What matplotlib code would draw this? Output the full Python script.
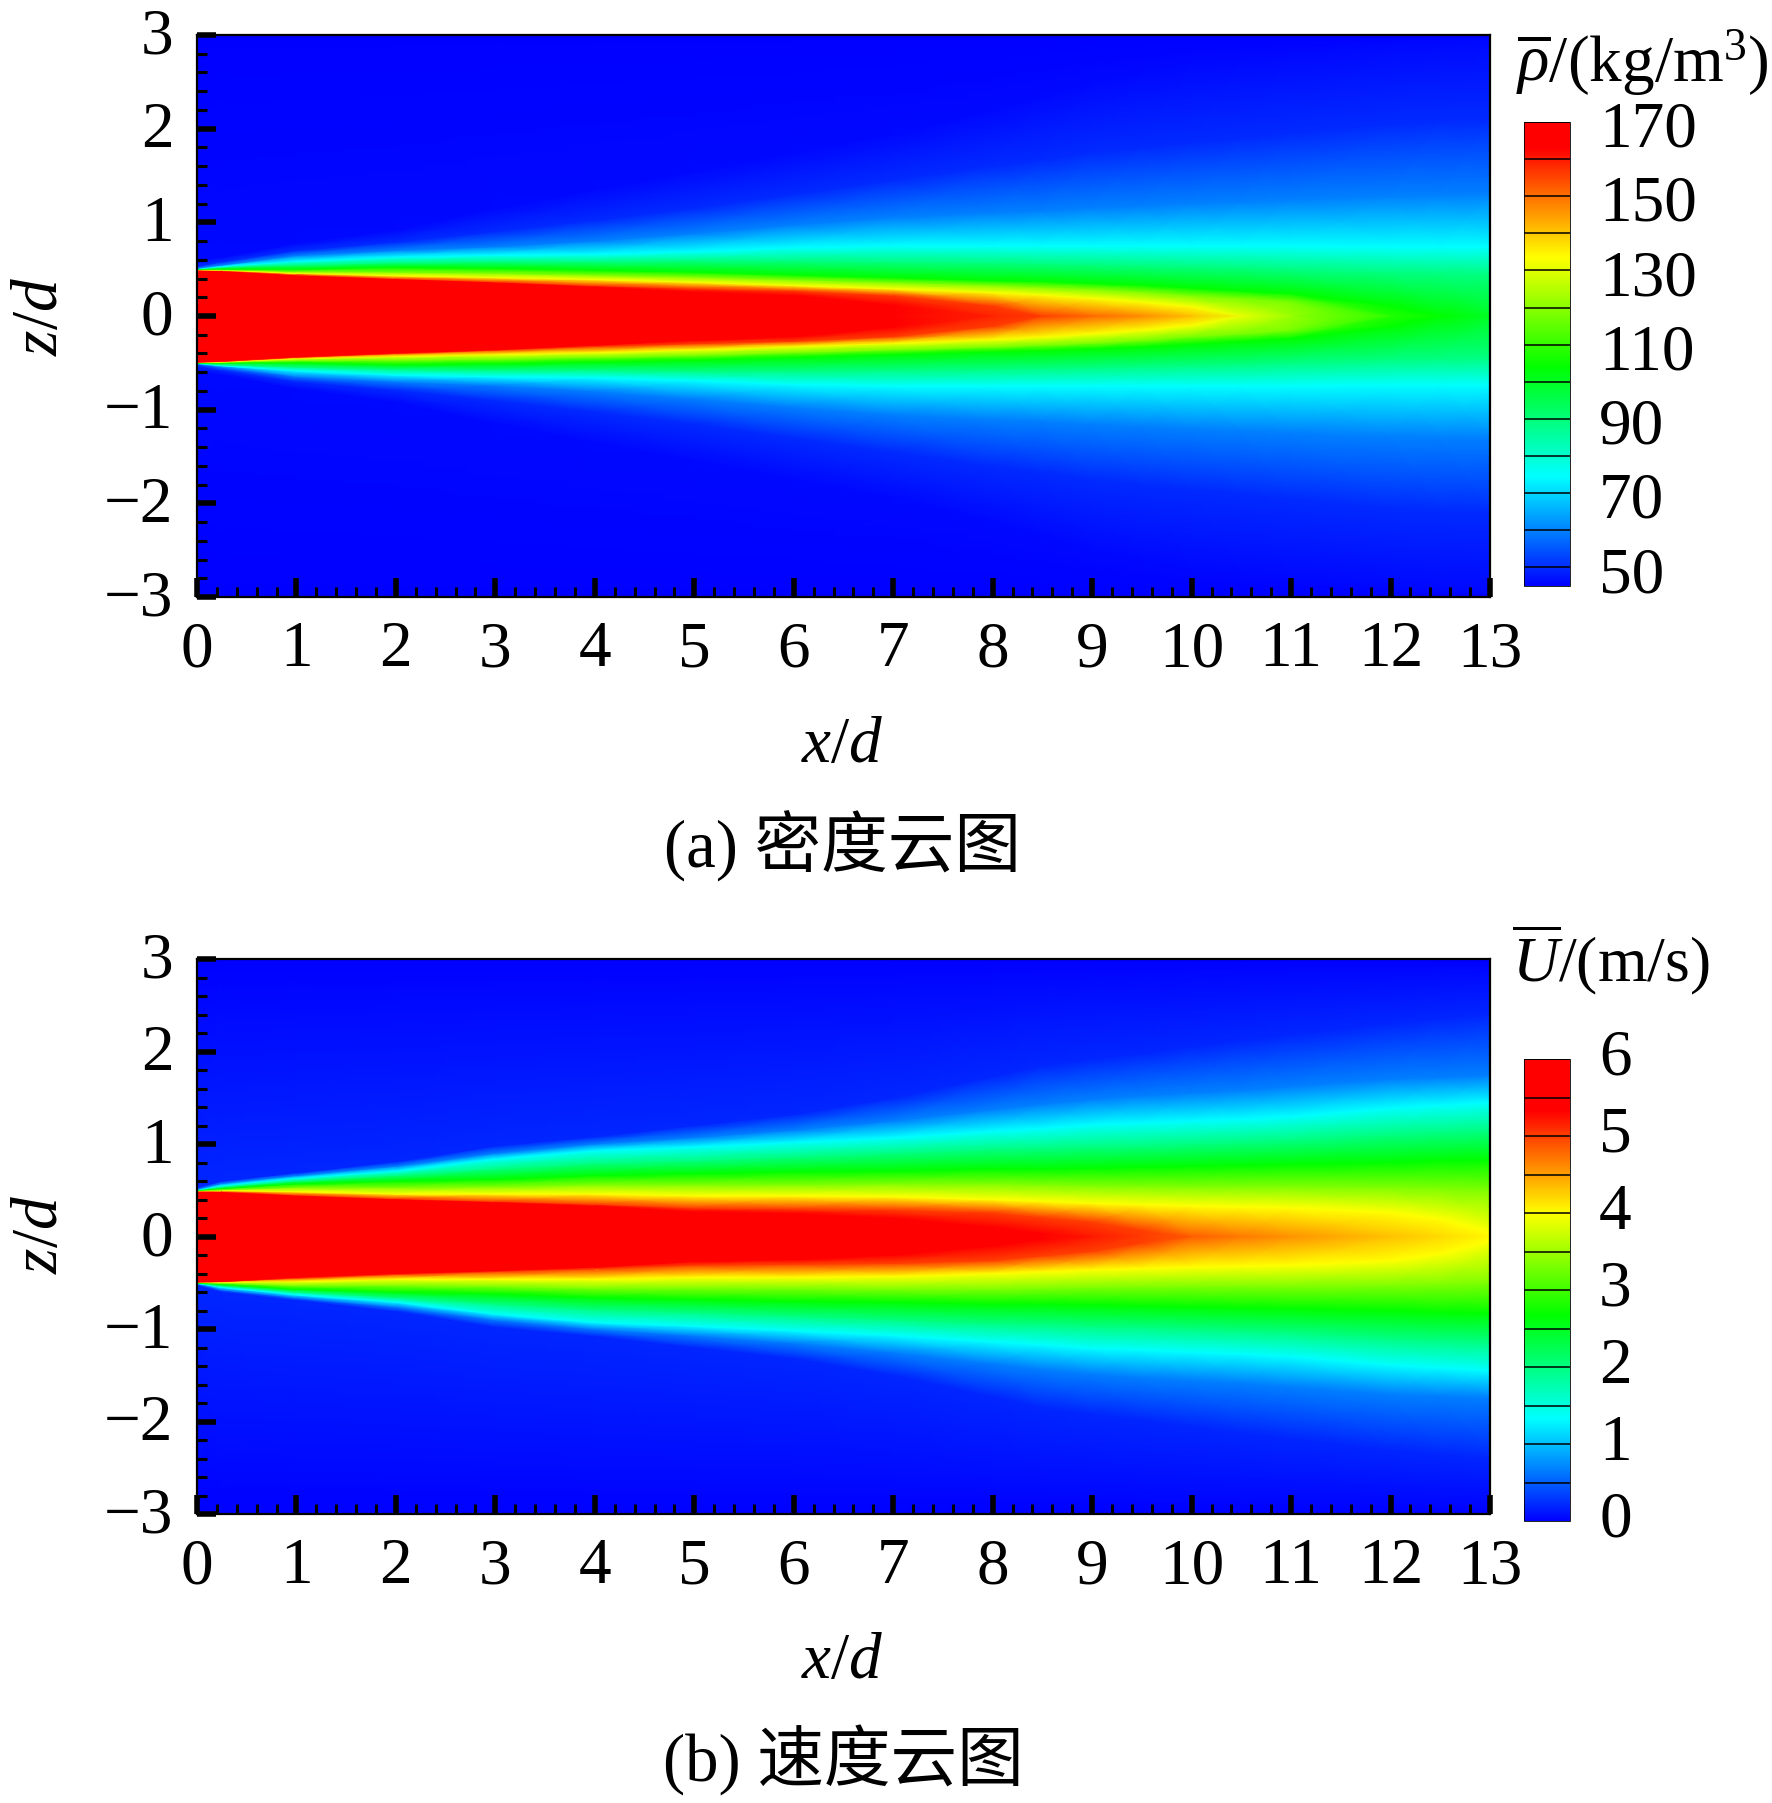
import numpy as np
import matplotlib
matplotlib.use('Agg')
import matplotlib.pyplot as plt
from matplotlib.colors import LinearSegmentedColormap, Normalize
from matplotlib.transforms import ScaledTranslation

plt.rcParams['font.family'] = ['Liberation Serif', 'Noto Sans CJK SC']
plt.rcParams['mathtext.fontset'] = 'custom'
plt.rcParams['mathtext.rm'] = 'Liberation Serif'
plt.rcParams['mathtext.it'] = 'Liberation Serif:italic'

W, H = 1772, 1803

# x stations, shared by both fields
x_st = np.array([0, 0.25, 1, 2, 3, 4, 5, 6, 7, 8, 8.5, 9, 9.5, 10, 10.5, 11, 12, 12.5, 13])

# density: centreline value and z where each level sits
rho_levels = np.array([163, 156, 133, 118, 104, 89, 74.5, 60, 50, 46])
rho_bg = 45
rho_center = np.array([170, 170, 170, 170, 170, 170, 168, 165, 163.5, 159, 156, 151, 147, 141, 131, 122, 108, 104, 100])
rho_z = np.array([
    [.49, .492, .495, .497, .50, .503, .505, .51, .53, .60],
    [.48, .485, .49, .495, .50, .52, .53, .545, .58, .63],
    [.435, .44, .455, .475, .50, .545, .585, .645, .70, .78],
    [.395, .40, .43, .47, .52, .57, .63, .70, .79, .92],
    [.36, .365, .41, .46, .51, .58, .65, .74, .90, 1.15],
    [.31, .325, .39, .44, .49, .58, .66, .80, 1.02, 1.35],
    [.26, .295, .36, .42, .47, .59, .69, .88, 1.15, 1.55],
    [.22, .27, .325, .39, .44, .59, .73, .97, 1.30, 1.75],
    [.12, .22, .29, .36, .41, .58, .75, 1.05, 1.45, 1.95],
    [0, .11, .25, .33, .38, .57, .75, 1.1, 1.6, 2.2],
    [0, 0, .225, .31, .37, .56, .75, 1.12, 1.67, 2.35],
    [0, 0, .19, .29, .35, .55, .75, 1.15, 1.75, 2.5],
    [0, 0, .15, .26, .33, .54, .75, 1.17, 1.8, 2.6],
    [0, 0, .10, .22, .30, .53, .75, 1.2, 1.85, 2.7],
    [0, 0, 0, .19, .27, .52, .75, 1.22, 1.9, 2.75],
    [0, 0, 0, .15, .24, .50, .75, 1.24, 1.95, 2.8],
    [0, 0, 0, 0, .11, .47, .74, 1.28, 2.05, 2.9],
    [0, 0, 0, 0, 0, .46, .74, 1.29, 2.08, 2.92],
    [0, 0, 0, 0, 0, .45, .74, 1.3, 2.1, 2.95],
])

# velocity, same layout
u_levels = np.array([5.33, 5.0, 4.0, 3.33, 2.67, 2.0, 1.33, 0.67, 0.2])
u_bg = 0
u_center = np.array([6, 6, 6, 6, 6, 6, 5.5, 5.45, 5.4, 5.36, 5.34, 5.2, 5.03, 4.85, 4.7, 4.57, 4.32, 4.2, 4.03])
u_z = np.array([
    [.49, .492, .495, .497, .50, .503, .506, .51, .53],
    [.485, .487, .495, .505, .52, .535, .55, .575, .60],
    [.44, .45, .485, .53, .57, .60, .63, .66, .69],
    [.40, .41, .46, .53, .60, .66, .71, .76, .81],
    [.37, .38, .46, .54, .62, .73, .84, .90, .98],
    [.33, .35, .46, .56, .66, .79, .93, 1.00, 1.08],
    [.27, .31, .44, .56, .68, .82, .97, 1.07, 1.20],
    [.25, .30, .44, .56, .70, .86, 1.02, 1.15, 1.32],
    [.20, .29, .43, .57, .71, .90, 1.07, 1.25, 1.50],
    [.10, .26, .40, .57, .73, .94, 1.14, 1.37, 1.73],
    [.03, .21, .38, .56, .73, .95, 1.17, 1.43, 1.85],
    [0, .16, .36, .55, .74, .97, 1.21, 1.48, 1.92],
    [0, .07, .345, .545, .75, .98, 1.23, 1.52, 1.98],
    [0, 0, .33, .54, .76, 1.0, 1.25, 1.55, 2.05],
    [0, 0, .32, .54, .77, 1.02, 1.27, 1.58, 2.12],
    [0, 0, .31, .54, .78, 1.04, 1.30, 1.62, 2.18],
    [0, 0, .26, .53, .80, 1.10, 1.39, 1.70, 2.30],
    [0, 0, .19, .52, .82, 1.12, 1.42, 1.72, 2.35],
    [0, 0, .05, .50, .83, 1.14, 1.45, 1.74, 2.40],
])

# colour anchors
rho_anchor = [45, 74.5, 104, 133.5, 163, 170]
u_anchor = [0, 1.33, 2.67, 4.0, 5.33, 6]
anchor_colors = ['#0000ff', '#00ffff', '#00ff00', '#ffff00', '#ff0000', '#ff0000']

# colorbar contents
rho_lines = [50, 60, 70, 80, 90, 100, 110, 120, 130, 140, 150, 160, 170]
rho_ticks = [50, 70, 90, 110, 130, 150, 170]
u_lines = [0.5, 1, 1.5, 2, 2.5, 3, 3.5, 4, 4.5, 5, 5.5, 6]
u_ticks = [0, 1, 2, 3, 4, 5, 6]

fig = plt.figure(figsize=(W / 100, H / 100), dpi=100)


def px_axes(x0, y0, x1, y1):
    # pixel box, y measured from the top of the image
    return fig.add_axes([x0 / W, 1 - y1 / H, (x1 - x0) / W, (y1 - y0) / H])


def px_text(x, y, s, **kw):
    fig.text(x / W, 1 - y / H, s, **kw)


def shift_labels(labels, dy_px):
    off = ScaledTranslation(0, dy_px / 100, fig.dpi_scale_trans)
    for lab in labels:
        lab.set_transform(lab.get_transform() + off)


def make_cmap(anchor):
    a = np.array(anchor, dtype=float)
    f = (a - a[0]) / (a[-1] - a[0])
    return LinearSegmentedColormap.from_list('cfd', list(zip(f, anchor_colors)), N=1024)


def draw_field(box, cbar_box, levels, center, table, bg, anchor, lines, ticks, cbar_dy):
    ax = px_axes(*box)
    n = len(x_st)
    # one mesh column per station: centreline, level contours, outer edge
    z_up = np.column_stack([np.zeros(n), table, np.full(n, 3.0)])
    val = np.column_stack([center, np.minimum.outer(center, levels), np.full(n, bg)])
    Z = np.hstack([-z_up[:, :0:-1], z_up])
    C = np.hstack([val[:, :0:-1], val])
    X = np.repeat(x_st[:, None], Z.shape[1], axis=1)
    norm = Normalize(anchor[0], anchor[-1])
    cmap = make_cmap(anchor)
    mesh = ax.pcolormesh(X, Z, C, shading='gouraud', cmap=cmap, norm=norm)

    ax.set_xlim(0, 13)
    ax.set_ylim(-3, 3)
    ax.set_xticks(np.arange(0, 14))
    ax.set_yticks(np.arange(-3, 4))
    ax.set_xticks(np.arange(0, 13.01, 0.2), minor=True)
    ax.set_yticks(np.arange(-3, 3.01, 0.2), minor=True)
    ax.tick_params(which='major', direction='in', length=14, width=4, labelsize=47, pad=17)
    ax.tick_params(which='minor', direction='in', length=7, width=2.2)
    ax.tick_params(axis='y', which='major', pad=17)
    shift_labels(ax.get_yticklabels(), 4)
    for s in ax.spines.values():
        s.set_linewidth(1.6)

    cax = px_axes(*cbar_box)
    cbar = fig.colorbar(mesh, cax=cax)
    cbar.set_ticks(ticks)
    cbar.ax.tick_params(length=0, labelsize=47, pad=21)
    shift_labels(cax.get_yticklabels(), cbar_dy)
    cbar.outline.set_linewidth(0.6)
    cax.hlines(lines, 0, 1, color='black', lw=1.1)
    return ax


# (a) density
draw_field((197, 35, 1490, 597), (1524, 122, 1570, 586),
           rho_levels, rho_center, rho_z, rho_bg, rho_anchor, rho_lines, rho_ticks, -2)
# (b) velocity
draw_field((197, 959, 1490, 1514), (1524, 1059, 1570, 1521),
           u_levels, u_center, u_z, u_bg, u_anchor, u_lines, u_ticks, 7)

for y in [316, 1234]:
    px_text(41, y, '$z/d$', fontsize=47, rotation=90, ha='center', va='center')
for y in [746, 1662]:
    px_text(842, y, '$x/d$', fontsize=47, ha='center', va='center')

px_text(843, 846, '(a) 密度云图', fontsize=48, ha='center', va='center')
px_text(843, 1760, '(b) 速度云图', fontsize=48, ha='center', va='center')

px_text(1516, 63, r'$\overline{\rho}$/(kg/m$^{3}$)', fontsize=47, ha='left', va='center')
px_text(1512, 960, r'$\overline{U}$/(m/s)', fontsize=46, ha='left', va='center')

plt.savefig('out.png', dpi=100, facecolor='white')
